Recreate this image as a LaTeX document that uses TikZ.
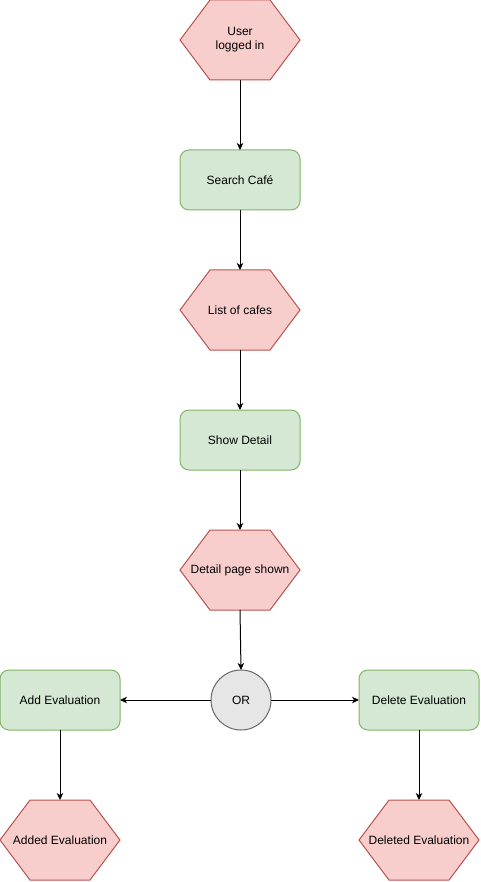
\documentclass[tikz,border=0pt]{standalone}
\usepackage{fontspec}
\setmainfont{Liberation Sans}
\usetikzlibrary{positioning,arrows.meta}
\definecolor{hexfill}{HTML}{F8CECC}
\definecolor{hexline}{HTML}{B85450}
\definecolor{actfill}{HTML}{D5E8D4}
\definecolor{actline}{HTML}{82B366}
\definecolor{gatefill}{HTML}{E6E6E6}
\definecolor{gateline}{HTML}{666666}
\tikzset{>={Stealth[length=7pt,width=6.5pt,inset=2pt]}}
\tikzstyle{hexev}=[minimum width=122pt,minimum height=82pt,inner sep=0pt,outer sep=-1pt,align=center,
                   path picture={\draw[draw=hexline,fill=hexfill,line width=1pt]
                     ([shift={(-60pt,0pt)}]path picture bounding box.center)
                     -- ([shift={(-30pt,40pt)}]path picture bounding box.center)
                     -- ([shift={(30pt,40pt)}]path picture bounding box.center)
                     -- ([shift={(60pt,0pt)}]path picture bounding box.center)
                     -- ([shift={(30pt,-40pt)}]path picture bounding box.center)
                     -- ([shift={(-30pt,-40pt)}]path picture bounding box.center) -- cycle;}]
\tikzstyle{actbox}=[draw=actline,fill=actfill,line width=1pt,rounded corners=9pt,
                    minimum width=120pt,minimum height=60pt,outer sep=0pt]
\tikzstyle{gate}=[circle,draw=gateline,fill=gatefill,line width=1pt,minimum size=60pt,
                  inner sep=0pt,outer sep=0pt]
\tikzstyle{flow}=[->,line width=1pt]

\begin{document}
\begin{tikzpicture}[font=\fontsize{12pt}{14pt}\selectfont]
  \useasboundingbox (0,0) rectangle (481pt,-882pt);

  % MAIN FLOW
  \node[hexev] (user) at (240pt,-40pt) {User\\logged in};
  \node[actbox,below=70pt of user] (search) {Search Café};
  \node[hexev,below=60pt of search] (cafes) {List of cafes};
  \node[actbox,below=60pt of cafes] (detail) {Show Detail};
  \node[hexev,below=60pt of detail] (shown) {Detail page shown};
  \node[gate,below=60pt of shown,xshift=1pt] (or) {OR};

  % BRANCHES
  \node[actbox,left=91pt of or] (add) {Add Evaluation};
  \node[actbox,right=88pt of or] (delete) {Delete Evaluation};
  \node[hexev,below=70pt of add] (added) {Added Evaluation};
  \node[hexev,below=70pt of delete] (deleted) {Deleted Evaluation};

  % CONNECTORS
  \foreach \a/\b in {user/search,search/cafes,cafes/detail,detail/shown,add/added,delete/deleted}
    \draw[flow] (\a) -- (\b);
  \draw[flow] (shown.south) -- (or.north);
  \draw[flow] (or) -- (add);
  \draw[flow] (or) -- (delete);
\end{tikzpicture}
\end{document}
